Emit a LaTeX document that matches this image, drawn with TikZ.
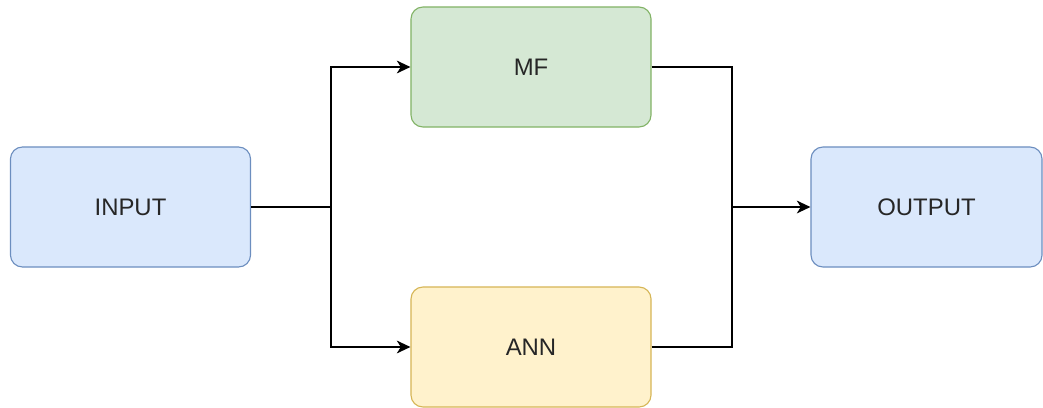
\documentclass[tikz,border=0pt]{standalone}
\usepackage{fontspec}
\setmainfont{Liberation Sans}
\usetikzlibrary{positioning,arrows.meta}

\definecolor{bluefill}{HTML}{DAE8FC}
\definecolor{blueline}{HTML}{6C8EBF}
\definecolor{greenfill}{HTML}{D5E8D4}
\definecolor{greenline}{HTML}{82B366}
\definecolor{yellowfill}{HTML}{FFF2CC}
\definecolor{yellowline}{HTML}{D6B656}

\begin{document}
\begin{tikzpicture}
      % Set up nodes
      [x=0.025cm, y=-0.025cm,
       block/.style={rectangle, rounded corners=0.3cm, draw, line width=0.8pt,
                     minimum width=6cm, minimum height=3cm, inner sep=2pt,
                     text=black!85, font=\fontsize{17}{20}\selectfont},
       conn/.style={line width=1pt},
       arr/.style={conn, -{Stealth[length=3.4mm, width=3.2mm, inset=1mm]}}]

      \useasboundingbox (0,0) rectangle (1043,407);

      \node[block, fill=bluefill, draw=blueline] (input) at (130.5,207) {INPUT};
      \node[block, fill=greenfill, draw=greenline] (mf) at (531,67) {MF};
      \node[block, fill=yellowfill, draw=yellowline] (ann) at (531,347) {ANN};
      \node[block, fill=bluefill, draw=blueline, minimum width=5.775cm] (output) at (926.5,207) {OUTPUT};

      \coordinate (split) at (331,207);
      \coordinate (join) at (732,207);

      % Draw connectors
      \draw[conn] (input.east) -- (split);
      \draw[arr] (split) |- (mf.west);
      \draw[arr] (split) |- (ann.west);
      \draw[conn] (mf.east) -| (join);
      \draw[conn] (ann.east) -| (join);
      \draw[arr] (join) -- (output.west);

    \end{tikzpicture}
\end{document}
